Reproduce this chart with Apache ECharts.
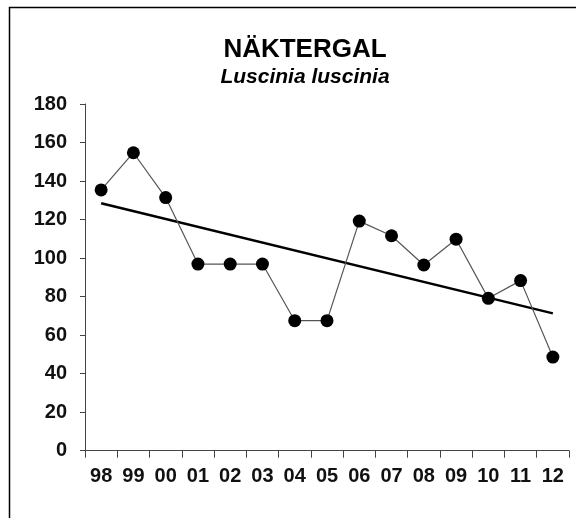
<!DOCTYPE html>
<html>
<head>
<meta charset="utf-8">
<script src="https://cdn.jsdelivr.net/npm/echarts@6/dist/echarts.min.js"></script>
<style>
html,body{margin:0;padding:0;background:#fff;}
#chart{width:576px;height:518px;}
</style>
</head>
<body>
<div id="chart"></div>
<script>
var years = ['98','99','00','01','02','03','04','05','06','07','08','09','10','11','12'];
var counts = [135.4, 154.7, 131.4, 96.9, 96.9, 96.9, 67.5, 67.5, 119.2, 111.6, 96.4, 109.8, 79.1, 88.3, 48.6];
var trend = [128.5, null, null, null, null, null, null, null, null, null, null, null, null, null, 71.3];
var yTicks = [0, 20, 40, 60, 80, 100, 120, 140, 160, 180];
var titleText = 'NÄKTERGAL';
var subtitleText = 'Luscinia luscinia';

var FONT = '"Liberation Sans", Arial, sans-serif';
var chart = echarts.init(document.getElementById('chart'), null, {renderer: 'canvas'});
chart.setOption({
  animation: false,
  backgroundColor: '#fff',
  title: [{
    text: titleText,
    left: 300, top: 32, textAlign: 'center',
    textStyle: {fontFamily: FONT, fontSize: 26, fontWeight: 'bold', color: '#000'}
  }, {
    text: subtitleText,
    left: 300, top: 62, textAlign: 'center',
    textStyle: {fontFamily: FONT, fontSize: 21, fontWeight: 'bold', fontStyle: 'italic', color: '#000'}
  }],
  graphic: [{
    type: 'polyline',
    shape: {points: [[9.5, 518], [9.5, 7.5], [576, 7.5]]},
    style: {stroke: '#000', lineWidth: 1.5, fill: null}
  }],
  grid: {left: 85, right: 7, top: 104, bottom: 67.3, containLabel: false},
  xAxis: {
    type: 'category',
    data: years,
    boundaryGap: true,
    axisLine: {lineStyle: {color: '#444', width: 1}},
    axisTick: {show: true, length: 7, lineStyle: {color: '#444'}},
    axisLabel: {margin: 16, fontFamily: FONT, fontSize: 20, fontWeight: 'bold', color: '#111'},
    splitLine: {show: false}
  },
  yAxis: {
    type: 'value',
    min: yTicks[0], max: yTicks[yTicks.length - 1], interval: 20,
    axisLine: {show: true, lineStyle: {color: '#444', width: 1}},
    axisTick: {show: true, length: 5, lineStyle: {color: '#444'}},
    axisLabel: {margin: 18, fontFamily: FONT, fontSize: 20, fontWeight: 'bold', color: '#111'},
    splitLine: {show: false}
  },
  series: [{
    type: 'line',
    data: trend,
    connectNulls: true,
    showSymbol: false,
    symbol: 'none',
    lineStyle: {color: '#000', width: 2.5},
    z: 2
  }, {
    type: 'line',
    data: counts,
    symbol: 'circle',
    symbolSize: 13,
    itemStyle: {color: '#000'},
    lineStyle: {color: '#555', width: 1.2},
    z: 3
  }]
});
</script>
</body>
</html>
